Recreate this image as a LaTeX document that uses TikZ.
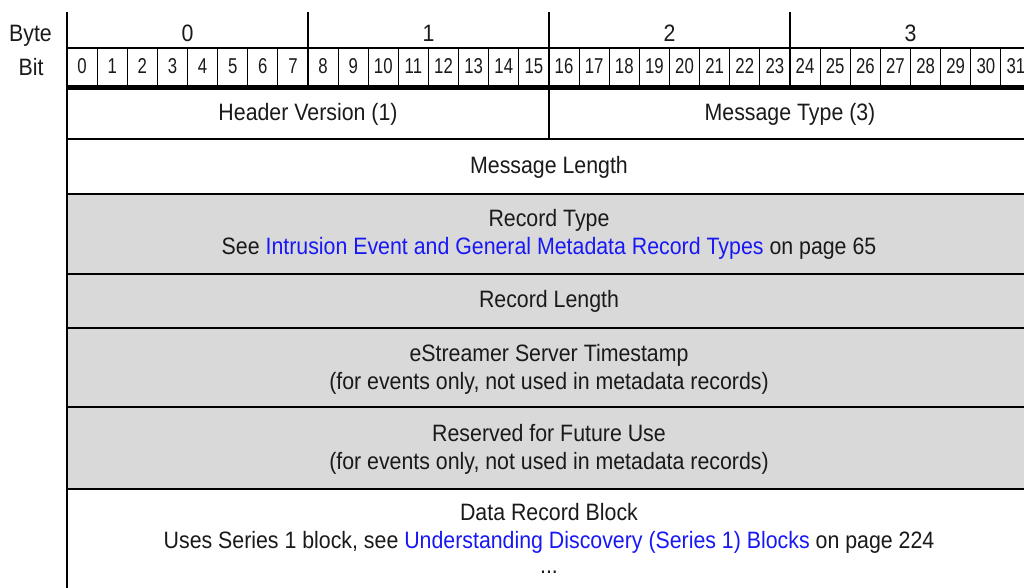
\documentclass[tikz,border=0pt]{standalone}
\usepackage{fontspec}
\setmainfont{Liberation Sans}[FakeStretch=0.9]
\newfontfamily\bitfont{Liberation Sans}[FakeStretch=0.78]
\definecolor{linkblue}{RGB}{24,24,245}
\definecolor{rowgray}{RGB}{217,217,217}
\definecolor{ink}{RGB}{26,26,26}

\begin{document}
\begin{tikzpicture}[x=1pt,y=-1pt,
  lbl/.style={anchor=base, inner sep=0pt, text=ink, font={\fontsize{23.7}{28}\selectfont}},
  bitlbl/.style={anchor=base, inner sep=0pt, text=ink, font={\bitfont\fontsize{21.5}{24}\selectfont}},
  rowrule/.style={line width=1.5pt, black},
  bitrule/.style={line width=0.9pt, black},
  byterule/.style={line width=1.8pt, black},
  grayrow/.style={fill=rowgray, draw=none},
  link/.style={text=linkblue}]

\useasboundingbox (0,0) rectangle (1024,588);
\clip (0,0) rectangle (1024,588);

% ---- field rows (left edge 67, right edge 1031) ----
\fill[white] (67,90) rectangle (1031,194);
\path[grayrow] (67,194) rectangle (1031,489);
\fill[white] (67,489) rectangle (1031,588);

% horizontal rules between fields
\foreach \y in {139,194,274,328,407,489}
  \draw[rowrule] (67,\y) -- (1031,\y);

% ---- header: byte and bit ruler ----
\draw[rowrule] (67,48) -- (1031,48);
\foreach \i in {1,...,31}
  \draw[bitrule] ({67+30.125*\i},48) -- ({67+30.125*\i},85);
\foreach \x in {308,549,790,1031}
  \draw[byterule] (\x,12) -- (\x,87);
\draw[line width=5pt] (67,87.5) -- (1031,87.5);
\draw[byterule] (549,87) -- (549,139);
\draw[line width=2pt] (67,12) -- (67,588);

\node[lbl] (bytehdr) at (30.5,42) {Byte};
\node[lbl] (bithdr) at (31,76) {Bit};
\foreach \b in {0,...,3}
  \node[lbl] (byte\b) at ({67+241*(\b+0.5)},42) {\b};
\foreach \i in {0,...,31}
  \node[bitlbl] (bit\i) at ({67+30.125*(\i+0.5)},74) {\i};

% ---- field labels ----
\node[lbl] (hdrver) at (308,121) {Header Version (1)};
\node[lbl] (msgtype) at (790,121) {Message Type (3)};
\node[lbl] (msglen) at (549,174) {Message Length};
\node[lbl] (rectype) at (549,226) {Record Type};
\node[lbl] (rectyperef) at (549,254) {See \textcolor{linkblue}{Intrusion Event and General Metadata Record Types} on page 65};
\node[lbl] (reclen) at (549,307) {Record Length};
\node[lbl] (srvts) at (549,361) {eStreamer Server Timestamp};
\node[lbl] (srvtsnote) at (549,389) {(for events only, not used in metadata records)};
\node[lbl] (resv) at (549,441) {Reserved for Future Use};
\node[lbl] (resvnote) at (549,469) {(for events only, not used in metadata records)};
\node[lbl] (datablk) at (549,520) {Data Record Block};
\node[lbl] (datablkref) at (549,548) {Uses Series 1 block, see \textcolor{linkblue}{Understanding Discovery (Series 1) Blocks} on page 224};
\node[lbl] (more) at (549,573) {...};
\end{tikzpicture}
\end{document}
